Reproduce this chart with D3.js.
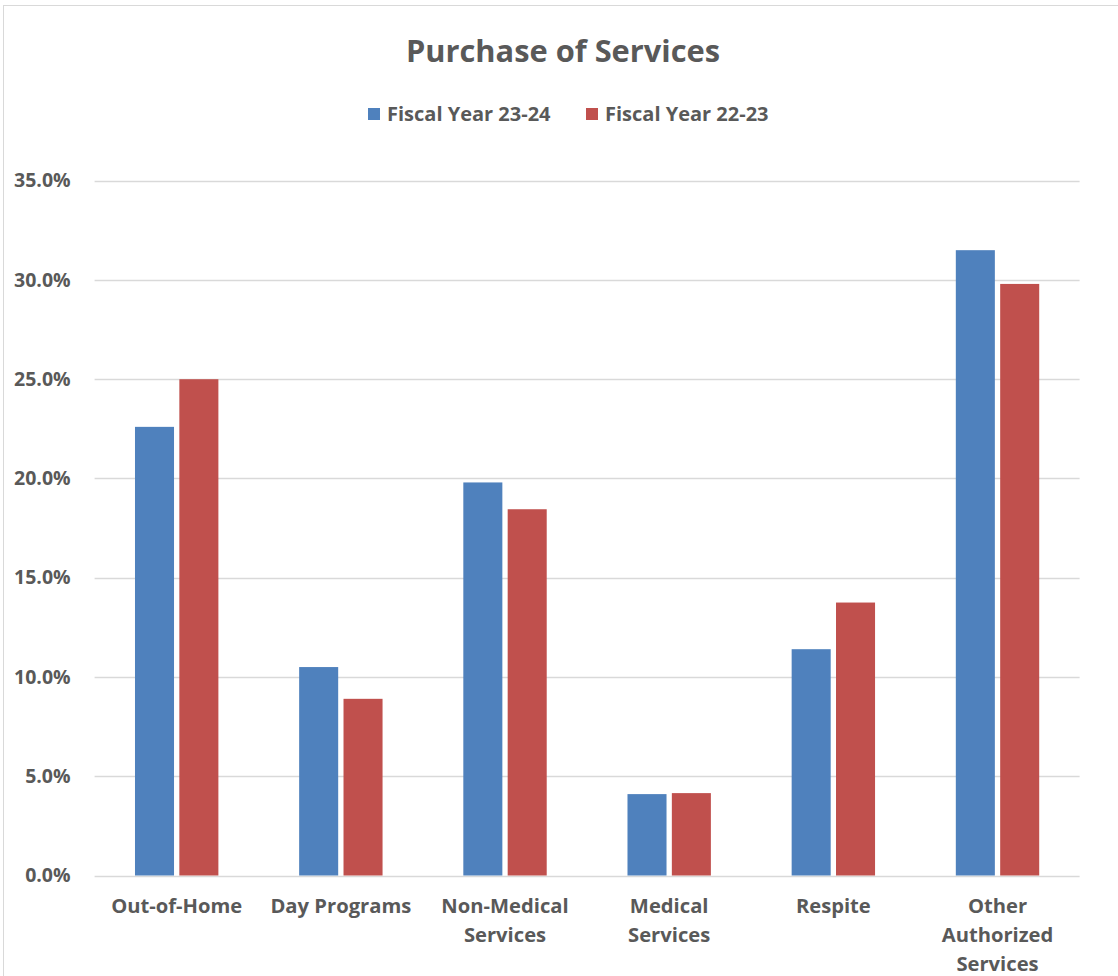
<!DOCTYPE html>
<html><head><meta charset="utf-8">
<script src="https://cdn.jsdelivr.net/npm/d3@7"></script>
<style>body{margin:0;background:#fff}svg{display:block}text{font-family:"Open Sans",Lato,sans-serif;font-weight:bold;fill:#595959}</style>
</head><body><svg id="c" width="1118" height="976"></svg>
<script>
const categories = [["Out-of-Home"],["Day Programs"],["Non-Medical","Services"],["Medical","Services"],["Respite"],["Other","Authorized","Services"]];
const seriesNames = ["Fiscal Year 23-24","Fiscal Year 22-23"];
const fy2324 = [22.6, 10.5, 19.8, 4.1, 11.4, 31.5];
const fy2223 = [25.0, 8.9, 18.45, 4.15, 13.75, 29.8];
const colors = ["#4F81BD","#C0504D"];
const yTicks = [0,5,10,15,20,25,30,35];

const svg = d3.select("#c");
svg.append("rect").attr("x",3.5).attr("y",5.5).attr("width",1130).attr("height",990).attr("fill","none").attr("stroke","#D9D9D9");

const x0 = d3.scaleBand().domain(d3.range(categories.length)).range([94.6,1079.6]).paddingInner(0).paddingOuter(0);
const y = d3.scaleLinear().domain([0,35]).range([875.5,180.7]);
const groupW = 83.4;
const x1 = d3.scaleBand().domain([0,1]).range([0,groupW]).paddingInner(0.12);

// gridlines
svg.append("g").selectAll("line").data(yTicks).join("line")
  .attr("x1",94.6).attr("x2",1079.6).attr("y1",d=>Math.round(y(d))+0.5).attr("y2",d=>Math.round(y(d))+0.5)
  .attr("stroke","#D9D9D9").attr("stroke-width",1.5);

const yAxis = d3.axisLeft(y).tickValues(yTicks).tickFormat(d=>d.toFixed(1)+"%").tickSize(0).tickPadding(24);
const ya = svg.append("g").attr("transform","translate(94.6,0)").call(yAxis);
ya.select(".domain").remove();
ya.selectAll("text").attr("font-size",19.5).attr("fill","#595959").style("font-family","'Open Sans', sans-serif").style("font-weight","bold");

const series = [fy2324, fy2223];
series.forEach((vals,si)=>{
  svg.append("g").selectAll("rect").data(vals).join("rect")
    .attr("x",(d,i)=>x0(i)+(x0.bandwidth()-groupW)/2+x1(si))
    .attr("width",x1.bandwidth())
    .attr("y",d=>y(d)).attr("height",d=>y(0)-y(d))
    .attr("fill",colors[si]);
});

// category labels
const cg = svg.append("g");
categories.forEach((lines,i)=>{
  const t = cg.append("text").attr("text-anchor","middle").attr("font-size",20.2)
    .attr("x",x0(i)+x0.bandwidth()/2).attr("y",913);
  lines.forEach((l,k)=>t.append("tspan").attr("x",x0(i)+x0.bandwidth()/2).attr("dy",k===0?0:29).text(l));
});

// title
svg.append("text").attr("x",563).attr("y",62).attr("text-anchor","middle").attr("font-size",30.8).text("Purchase of Services");

// legend
const lg = svg.append("g");
const legendX = [368, 586];
seriesNames.forEach((n,i)=>{
  lg.append("rect").attr("x",legendX[i]).attr("y",108).attr("width",12).attr("height",12).attr("fill",colors[i]);
  lg.append("text").attr("x",legendX[i]+19).attr("y",120.5).attr("font-size",20).text(n);
});
</script></body></html>
